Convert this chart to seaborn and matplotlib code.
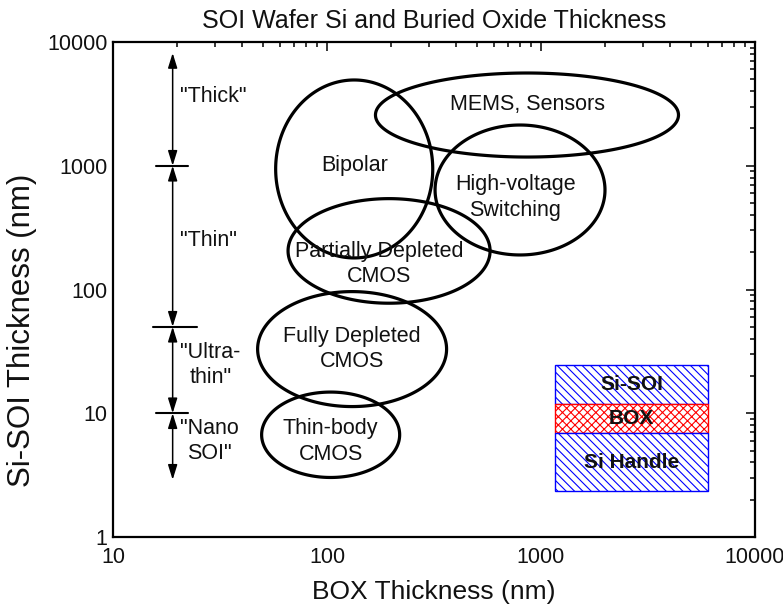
import numpy as np
import pandas as pd
import matplotlib
matplotlib.use("Agg")
import matplotlib.pyplot as plt
import seaborn as sns
from matplotlib.patches import Rectangle
from matplotlib.ticker import LogLocator, NullFormatter

# ---- data ----
regions = ["MEMS, Sensors", "Bipolar", "High-voltage\nSwitching",
           "Partially Depleted\nCMOS", "Fully Depleted\nCMOS", "Thin-body\nCMOS"]
center_box = [860, 134, 798, 195, 131, 104]          # BOX thickness (nm)
center_si = [2570, 942, 637, 205, 33, 6.7]           # Si-SOI thickness (nm)
width_dec = [1.416, 0.734, 0.794, 0.944, 0.883, 0.645]   # ellipse width (decades)
height_dec = [0.679, 1.438, 1.05, 0.845, 0.929, 0.69]    # ellipse height (decades)
label_box = [869, 135, 757, 175, 131, 104]
label_si = [3100, 1000, 550, 161, 33, 5.9]

class_names = ['"Thick"', '"Thin"', '"Ultra-\nthin"', '"Nano\nSOI"']
class_label_y = [3600, 250, 24.5, 5.97]
class_bounds = [1000, 50, 10]
bound_x0 = [15.9, 15.4, 15.9]
bound_x1 = [22.4, 24.7, 22.4]
arrow_x = 19
arrow_top = 8150
arrow_bottom = 2.9

x_ticks = [10, 100, 1000, 10000]
y_ticks = [1, 10, 100, 1000, 10000]
inset_layers = ["Si-SOI", "BOX", "Si Handle"]
inset_x = [1160, 6030]
inset_y = [24.5, 11.9, 6.9, 2.36]

# ---- figure ----
sns.set_style("white")
plt.rcParams['font.family'] = ['Liberation Sans', 'DejaVu Sans']
plt.rcParams['hatch.linewidth'] = 0.8
plt.rcParams['xtick.direction'] = 'in'
plt.rcParams['ytick.direction'] = 'in'
plt.rcParams['xtick.top'] = True
plt.rcParams['ytick.right'] = True
fig = plt.figure(figsize=(7.83, 6.10), dpi=100)
ax = fig.add_axes([113/783, 1 - 537/610, 642/783, 495/610])
ax.set_xscale("log")
ax.set_yscale("log")
ax.set_xlim(10, 10000)
ax.set_ylim(1, 10000)

# ellipses drawn in log space as closed outlines
t = np.linspace(0, 2 * np.pi, 360, endpoint=False)
for i, name in enumerate(regions):
    lx = np.log10(center_box[i]) + width_dec[i] / 2 * np.cos(t)
    ly = np.log10(center_si[i]) + height_dec[i] / 2 * np.sin(t)
    ax.fill(10 ** lx, 10 ** ly, fill=False, edgecolor="black", lw=2.3,
            joinstyle="round")
    ax.text(label_box[i], label_si[i], name, ha="center", va="center",
            fontsize=15.5, linespacing=1.3, color="#111111")

# classification arrows
segs = [arrow_top] + class_bounds + [arrow_bottom]
for a, b in zip(segs[:-1], segs[1:]):
    ax.annotate("", xy=(arrow_x, b), xytext=(arrow_x, a),
                arrowprops=dict(arrowstyle="<|-|>,head_length=0.9,head_width=0.28",
                                color="black", lw=1.1,
                                mutation_scale=10, shrinkA=0, shrinkB=0))
bounds_df = pd.DataFrame({"x": bound_x0 + bound_x1,
                          "y": class_bounds + class_bounds,
                          "g": [0, 1, 2, 0, 1, 2]})
sns.lineplot(data=bounds_df, x="x", y="y", units="g", estimator=None,
             color="black", lw=1.5, ax=ax)
for name, yl in zip(class_names, class_label_y):
    ax.text(20.6, yl, name, ha="left", va="center", fontsize=15.5,
            linespacing=1.3, multialignment="center", color="#111111")

# inset
hatches = ["\\\\\\\\", "xxxx", "\\\\\\\\"]
colors = ["blue", "red", "blue"]
for i, name in enumerate(inset_layers):
    y0, y1 = inset_y[i + 1], inset_y[i]
    r = Rectangle((inset_x[0], y0), inset_x[1] - inset_x[0], y1 - y0,
                  facecolor="white", edgecolor=colors[i], hatch=hatches[i], lw=1.0)
    ax.add_patch(r)
    ymid = 10 ** ((np.log10(y0) + np.log10(y1)) / 2)
    xmid = 10 ** ((np.log10(inset_x[0]) + np.log10(inset_x[1])) / 2)
    ax.text(xmid, ymid, name, ha="center", va="center", fontsize=15,
            fontweight="bold", color="#111111")

# axes styling
ax.set_xticks(x_ticks)
ax.set_yticks(y_ticks)
ax.set_xticklabels([str(v) for v in x_ticks])
ax.set_yticklabels([str(v) for v in y_ticks])
ax.xaxis.set_minor_locator(LogLocator(base=10, subs=np.arange(2, 10)))
ax.yaxis.set_minor_locator(LogLocator(base=10, subs=np.arange(2, 10)))
ax.xaxis.set_minor_formatter(NullFormatter())
ax.yaxis.set_minor_formatter(NullFormatter())
ax.tick_params(which="both", direction="in", top=True, right=True,
               labelsize=15.5, width=1.1, colors="black", labelcolor="#111111")
ax.tick_params(axis="x", which="major", pad=7)
ax.tick_params(axis="y", which="major", pad=4)
ax.tick_params(which="major", length=6.5)
ax.tick_params(which="minor", length=3.6)
for s in ax.spines.values():
    s.set_linewidth(1.6)
    s.set_color("black")
    s.set_visible(True)
ax.set_xlabel("BOX Thickness (nm)", fontsize=19, labelpad=9, color="#111111")
ax.set_ylabel("Si-SOI Thickness (nm)", fontsize=22.5, color="#111111")
ax.yaxis.set_label_coords(-0.118, 0.418)
ax.set_title("SOI Wafer Si and Buried Oxide Thickness", fontsize=18, pad=10,
             color="#111111")

fig.savefig("out.png", dpi=100)
